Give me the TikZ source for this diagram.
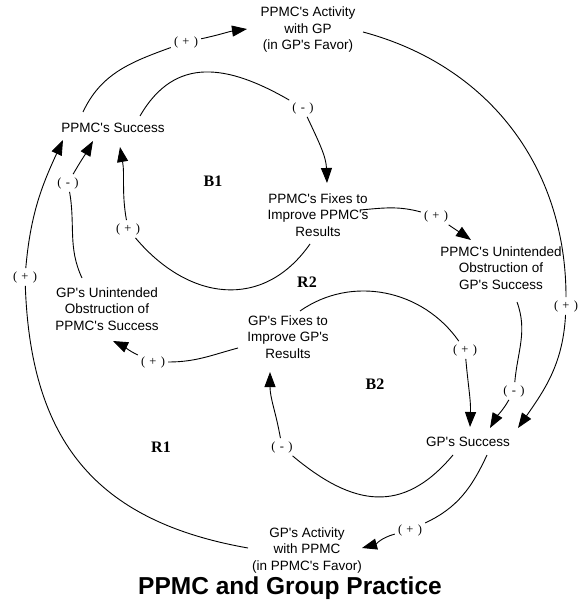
\documentclass[tikz,border=0pt]{standalone}
\usepackage{fontspec}
\setmainfont{Liberation Sans}[Ligatures=TeXOff]
\newfontfamily\signfont{Liberation Serif}
\usetikzlibrary{arrows.meta,calc}
% polarity mark in parentheses, with wide gaps
\newcommand\polarity[1]{(\hspace{4.3pt}#1\hspace{4.3pt})}

\begin{document}
\begin{tikzpicture}[x=1pt,y=-1pt,
  var/.style={align=center,font=\fontsize{13.5}{16.5}\selectfont,inner sep=0pt},
  sign/.style={font=\signfont\fontsize{12.5}{14}\selectfont,inner sep=3pt},
  loopname/.style={font=\signfont\bfseries\fontsize{16}{18}\selectfont},
  link/.style={line width=0.9pt},
  tip/.style={-{Triangle[length=15pt,width=11pt]}},
]
\useasboundingbox (0,0) rectangle (579,607);

% variables
\node[var] (act1) at (308,30) {PPMC's Activity\\with GP\\(in GP's Favor)};
\node[var] (ps)   at (113,128) {PPMC's Success};
\node[var] (fix1) at (318,215) {PPMC's Fixes to\\Improve PPMC's\\Results};
\node[var] (uo1)  at (501,268) {PPMC's Unintended\\Obstruction of\\GP's Success};
\node[var] (uo2)  at (107,309) {GP's Unintended\\Obstruction of\\PPMC's Success};
\node[var] (fix2) at (288,337) {GP's Fixes to\\Improve GP's\\Results};
\node[var] (gs)   at (468,442) {GP's Success};
\node[var] (act2) at (307,550) {GP's Activity\\with PPMC\\(in PPMC's Favor)};

% loop names
\node[loopname] (b1) at (213,181) {B1};
\node[loopname] (r2) at (307,282) {R2};
\node[loopname] (b2) at (375,384) {B2};
\node[loopname] (r1) at (161,447) {R1};

\node[font=\bfseries\fontsize{24.5}{28}\selectfont] (title) at (290,588) {PPMC and Group Practice};

% link polarities
\node[sign] (s1)  at (186,42)  {\polarity{+}};
\node[sign] (s2)  at (566,306) {\polarity{+}};
\node[sign] (s3)  at (303,108) {\polarity{-}};
\node[sign] (s4)  at (128,229) {\polarity{+}};
\node[sign] (s5)  at (436,216) {\polarity{+}};
\node[sign] (s6)  at (514,391) {\polarity{-}};
\node[sign] (s7)  at (465,350) {\polarity{+}};
\node[sign] (s8)  at (282,447) {\polarity{-}};
\node[sign] (s9)  at (410,530) {\polarity{+}};
\node[sign] (s10) at (25,277)  {\polarity{+}};
\node[sign] (s11) at (153,362) {\polarity{+}};
\node[sign] (s12) at (68,183)  {\polarity{-}};

% causal links
\draw[link] ($(ps)+(-30,-16)$) to[out=65,in=200] (s1);
\draw[link,tip] (s1) to[out=12,in=188] ($(act1)+(-61,-1)$);

\draw[link] ($(act1)+(55,2)$) to[out=-15,in=90] (s2);
\draw[link,tip] (s2) to[out=-93,in=55] ($(gs)+(50,-14)$);

\draw[link] ($(ps)+(27,-12)$) to[out=60,in=150,looseness=1.2] (s3);
\draw[link,tip] (s3) to[out=-65,in=92] ($(fix1)+(9,-32)$);

\draw[link] ($(fix1)+(-8,29)$) to[out=235,in=-50,looseness=1.2] (s4);
\draw[link,tip] (s4) to[out=100,in=-80] ($(ps)+(7,19)$);

\draw[link] ($(fix1)+(42,-5)$) to[out=5,in=165] (s5);
\draw[link,tip] (s5) to[out=-35,in=145] ($(uo1)+(-30,-28)$);

\draw[link] ($(uo1)+(16,34)$) to[out=-70,in=85] (s6);
\draw[link,tip] (s6) to[out=-120,in=60] ($(gs)+(22,-14)$);

\draw[link] ($(fix2)+(12,-26)$) to[out=35,in=125] (s7);
\draw[link,tip] (s7) to[out=-85,in=88] ($(gs)+(2,-15)$);

\draw[link] ($(gs)+(-15,13)$) to[out=230,in=-40,looseness=1.25] (s8);
\draw[link,tip] (s8) to[out=100,in=-90] ($(fix2)+(-18,35)$);

\draw[link] ($(gs)+(19,13)$) to[out=-115,in=25] (s9);
\draw[link,tip] (s9) to[out=195,in=15] ($(act2)+(55,-2)$);

\draw[link] ($(act2)+(-59,-2)$) to[out=170,in=-88,looseness=1.15] (s10);
\draw[link,tip] (s10) to[out=85,in=-115] ($(ps)+(-50,12)$);

\draw[link] ($(fix2)+(-50,11)$) to[out=195,in=0] (s11);
\draw[link,tip] (s11) to[out=155,in=-25] ($(uo2)+(6,32)$);

\draw[link] ($(uo2)+(-25,-31)$) to[out=115,in=-80] (s12);
\draw[link,tip] (s12) to[out=60,in=240] ($(ps)+(-20,13)$);
\end{tikzpicture}
\end{document}
